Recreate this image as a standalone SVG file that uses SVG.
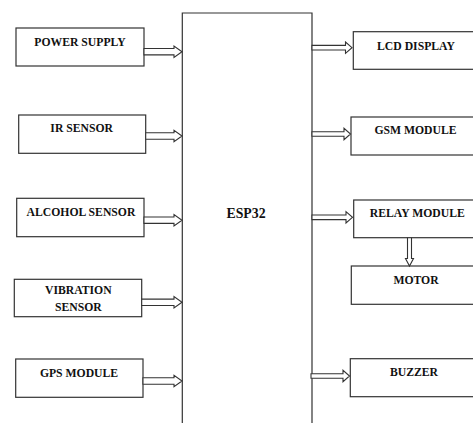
<svg xmlns="http://www.w3.org/2000/svg" width="473" height="423" viewBox="0 0 473 423">
  <style>
    .box { fill: #ffffff; stroke: #333333; stroke-width: 1.2; }
    .arrow { fill: #ffffff; stroke: #333333; stroke-width: 1.1; stroke-linejoin: miter; }
    .lbl { font-family: "Liberation Serif", "Times New Roman", serif; font-weight: bold; font-size: 11.7px; fill: #111111; text-anchor: middle; }
    .main { font-family: "Liberation Serif", "Times New Roman", serif; font-weight: bold; font-size: 13.8px; fill: #111111; text-anchor: middle; }
  </style>
  <rect width="473" height="423" fill="#ffffff"/>

  <g id="esp32">
    <path class="box" d="M182.3,430 V13 H312 V430" fill="none"/>
    <text class="main" x="246" y="218">ESP32</text>
  </g>

  <g id="power-supply">
    <rect class="box" x="16" y="28" width="128" height="38"/>
    <text class="lbl" x="80" y="45.7">POWER SUPPLY</text>
  </g>
  <g id="ir-sensor">
    <rect class="box" x="18.7" y="115" width="127" height="38.3"/>
    <text class="lbl" x="81.7" y="132">IR SENSOR</text>
  </g>
  <g id="alcohol-sensor">
    <rect class="box" x="16.7" y="198.3" width="127.3" height="38.4"/>
    <text class="lbl" x="81" y="216">ALCOHOL SENSOR</text>
  </g>
  <g id="vibration-sensor">
    <rect class="box" x="14.3" y="279.3" width="127.4" height="37.4"/>
    <text class="lbl" x="78.3" y="294.3">VIBRATION</text>
    <text class="lbl" x="78.3" y="310.7">SENSOR</text>
  </g>
  <g id="gps-module">
    <rect class="box" x="15.7" y="359" width="127.3" height="38.3"/>
    <text class="lbl" x="79" y="376.5">GPS MODULE</text>
  </g>

  <g id="lcd-display">
    <rect class="box" x="353.3" y="31.7" width="125" height="37.6"/>
    <text class="lbl" x="416" y="50">LCD DISPLAY</text>
  </g>
  <g id="gsm-module">
    <rect class="box" x="351" y="117" width="127" height="38"/>
    <text class="lbl" x="415.5" y="133.5">GSM MODULE</text>
  </g>
  <g id="relay-module">
    <rect class="box" x="353.7" y="200" width="125" height="37.7"/>
    <text class="lbl" x="417.3" y="216.7">RELAY MODULE</text>
  </g>
  <g id="motor">
    <rect class="box" x="351.3" y="266" width="127" height="38.3"/>
    <text class="lbl" x="416" y="283.5">MOTOR</text>
  </g>
  <g id="buzzer">
    <rect class="box" x="350.3" y="358.7" width="128" height="38"/>
    <text class="lbl" x="414" y="376">BUZZER</text>
  </g>

  <g id="connectors">
    <!-- inputs into ESP32 -->
    <polygon class="arrow" points="144,48.5 174,48.5 174,46 182,51.7 174,57.4 174,54.9 144,54.9"/>
    <polygon class="arrow" points="145.7,132.8 174,132.8 174,130.3 182,136 174,141.7 174,139.2 145.7,139.2"/>
    <polygon class="arrow" points="144,217 174,217 174,214.5 182,220.2 174,225.9 174,223.4 144,223.4"/>
    <polygon class="arrow" points="141.7,299.1 174,299.1 174,296.6 182,302.3 174,308 174,305.5 141.7,305.5"/>
    <polygon class="arrow" points="143,377.8 174,377.8 174,375.3 182,381 174,386.7 174,384.2 143,384.2"/>
    <!-- outputs from ESP32 -->
    <polygon class="arrow" points="312,45.4 345.5,45.4 345.5,42 352,47.7 345.5,53.4 345.5,50 312,50"/>
    <polygon class="arrow" points="312,131.7 344,131.7 344,128.3 350.5,134 344,139.7 344,136.3 312,136.3"/>
    <polygon class="arrow" points="312,215 346,215 346,211.6 352.5,217.3 346,223 346,219.6 312,219.6"/>
    <polygon class="arrow" points="311,373.7 343,373.7 343,370.3 349.5,376 343,381.7 343,378.3 311,378.3"/>
    <!-- relay to motor -->
    <polygon class="arrow" points="407.5,237.7 407.5,258.5 405.5,258.5 409.5,266 413.5,258.5 411.5,258.5 411.5,237.7"/>
  </g>
</svg>
